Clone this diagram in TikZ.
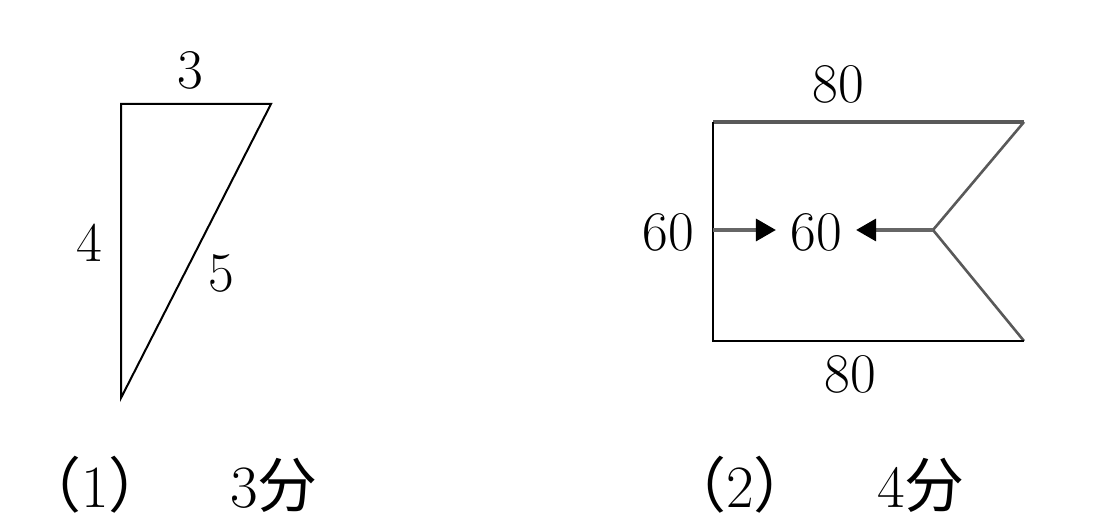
\documentclass[tikz,border=0pt]{standalone}
\usepackage{fontspec}
\newfontfamily\cjk{Noto Sans CJK SC}
\usetikzlibrary{arrows.meta}
\begin{document}
\begin{tikzpicture}[x=0.5pt,y=0.5pt]
\tikzstyle{num}=[font=\fontsize{28}{30}\selectfont,inner sep=2pt]
\tikzstyle{caption}=[font=\fontsize{30}{32}\selectfont,inner sep=2pt]
\tikzstyle{edge}=[line width=1pt,black,line join=miter]
\tikzstyle{soft}=[line width=1.3pt,black!65]
\tikzstyle{arr}=[line width=1.7pt,black!60,shorten >=5pt,-{Triangle[length=10pt,width=11pt,color=black]}]
\useasboundingbox (0,0) rectangle (1094,528);
% (1) triangle
\coordinate (a) at (121,424);
\coordinate (b) at (271,424);
\coordinate (c) at (121,130);
\draw[edge,fill=white] (a) -- (b) -- (c) -- cycle;
\node[num] (la) at (190,458) {3};
\node[num] (lb) at (89,285) {4};
\node[num] (lc) at (221,255) {5};
% (2) flag
\coordinate (tl) at (713,406);
\coordinate (tr) at (1024,406);
\coordinate (n) at (933,298);
\coordinate (br) at (1024,187);
\coordinate (bl) at (713,187);
\coordinate (lp) at (713,298);
\draw[soft,line width=1.6pt] (tl) -- (tr);
\draw[soft] (tr) -- (n) -- (br);
\draw[edge] (br) -- (bl) -- (tl);
\node[num] (top) at (838,444) {80};
\node[num] (bot) at (850,154) {80};
\node[num] (w) at (668,296) {60};
\node[num] (m) at (816,296) {60};
\draw[arr] (lp) -- (lp -| m.west);
\draw[arr] (n) -- (n -| m.east);
% captions
\node[caption] (c1) at (95,43) {{\cjk （}1{\cjk ）}};
\node[caption] (s1) at (274,43) {3{\cjk 分}};
\node[caption] (c2) at (740,43) {{\cjk （}2{\cjk ）}};
\node[caption] (s2) at (921,43) {4{\cjk 分}};
\end{tikzpicture}
\end{document}
